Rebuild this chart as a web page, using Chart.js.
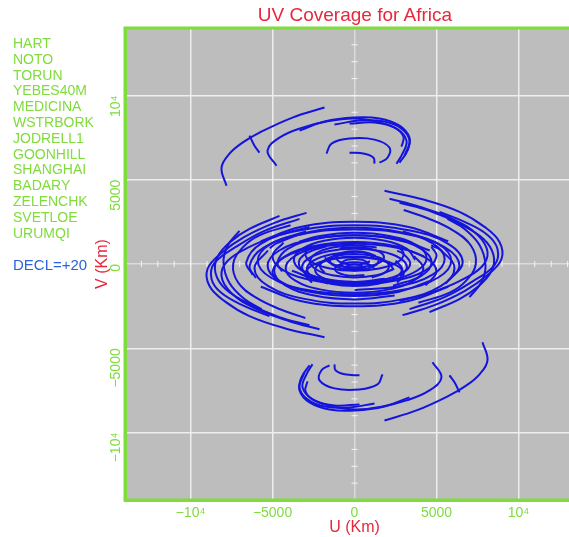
<!DOCTYPE html>
<html><head><meta charset="utf-8">
<script src="https://cdn.jsdelivr.net/npm/chart.js@4"></script>
<style>
html,body{margin:0;padding:0;background:#fff;overflow:hidden;width:569px;height:537px;}
#wrap{position:absolute;left:0;top:0;width:590px;height:537px;}
.t{position:absolute;font-family:"Liberation Sans",Arial,sans-serif;white-space:nowrap;}
#title{left:355px;top:4px;transform:translateX(-50%);font-size:19px;color:#e6283c;}
#stations{left:13px;top:36px;font-size:14px;line-height:15.8px;color:#7fdc3c;}
#decl{left:13px;top:256px;font-size:15px;color:#2a62e0;}
</style></head><body>
<div id="wrap"><canvas id="c" width="590" height="537"></canvas></div>
<div id="title" class="t"></div>
<div id="stations" class="t"></div>
<div id="decl" class="t"></div>
<script>
const chartTitle = 'UV Coverage for Africa';
const stations = ['HART','NOTO','TORUN','YEBES40M','MEDICINA','WSTRBORK','JODRELL1','GOONHILL','SHANGHAI','BADARY','ZELENCHK','SVETLOE','URUMQI'];
const declLabel = 'DECL=+20';
const xTickValues = [-10000,-5000,0,5000,10000];
const xTickLabels = ['\u221210\u2074','\u22125000','0','5000','10\u2074'];
const yTickValues = [-10000,-5000,0,5000,10000];
const yTickLabels = ['\u221210\u2074','\u22125000','0','5000','10\u2074'];
const axisMarks = [-13000,-12000,-11000,-10000,-9000,-8000,-7000,-6000,-5000,-4000,-3000,-2000,-1000,1000,2000,3000,4000,5000,6000,7000,8000,9000,10000,11000,12000,13000];

// UV tracks, flat [u1,v1,u2,v2,...] in km
const topArcs = [
 [-7808,4641,-8113,5712,-7625,6545,-6832,7200,-5795,7795,-3782,8687,-1830,9282],
 [-4758,5831,-5307,6724,-4575,7497,-3172,8092,-1708,8449,-122,8628,1342,8449,2562,8033,3172,7319,2928,6545,2562,5950],
 [-3355,7914,-1830,8449,0,8687,1525,8628,2745,8211,3355,7497,3233,6724,2745,6010],
 [-1220,8271,305,8509,1830,8449,2867,8033,3355,7319,3050,6426],
 [-305,8330,1220,8390,2440,8092,2989,7557,2867,6962],
 [-1708,6545,-1403,7140,-305,7438,1220,7378,2135,6902,2013,6307,1525,6010],
 [-305,6605,610,6545,1159,6307,1220,5950],
 [-6405,7616,-6100,7021,-5795,6605]
];
const bottomArcs = [
 [7808,-4641,8113,-5712,7625,-6545,6832,-7200,5795,-7795,3782,-8687,1830,-9282],
 [4758,-5831,5307,-6724,4575,-7497,3172,-8092,1708,-8449,122,-8628,-1342,-8449,-2562,-8033,-3172,-7319,-2928,-6545,-2562,-5950],
 [3355,-7914,1830,-8449,0,-8687,-1525,-8628,-2745,-8211,-3355,-7497,-3233,-6724,-2745,-6010],
 [1220,-8271,-305,-8509,-1830,-8449,-2867,-8033,-3355,-7319,-3050,-6426],
 [305,-8330,-1220,-8390,-2440,-8092,-2989,-7557,-2867,-6962],
 [1708,-6545,1403,-7140,305,-7438,-1220,-7378,-2135,-6902,-2013,-6307,-1525,-6010],
 [305,-6605,-610,-6545,-1159,-6307,-1220,-5950],
 [6405,-7616,6100,-7021,5795,-6605]
];
const leftArcs = [
 [-2928,3035,-4880,2440,-6710,1607,-8113,655,-8967,-298,-8845,-1309,-7930,-2202,-6405,-3094,-4270,-3808,-1830,-4344],
 [-2745,2202,-4575,1726,-6405,1012,-7747,179,-8113,-714,-7503,-1726,-6100,-2618,-3965,-3392,-2135,-3868],
 [-3355,2678,-5490,1964,-7137,1071,-8540,60,-8723,-893,-8113,-1726,-6710,-2499,-5185,-3094],
 [-4575,2856,-6405,2083,-7503,1369,-8357,417,-8479,-536,-7869,-1488,-6405,-2380,-4575,-3154,-2745,-3630],
 [-7015,1964,-7747,1071,-7991,60,-7625,-1131,-6710,-2083,-5673,-2678],
 [-3900,2300,-5800,1700,-6800,1000,-7400,0,-7100,-1100,-6000,-2000,-4500,-2700,-3000,-3200]
];
const rightArcs = [
 [2928,-3035,4880,-2440,6710,-1607,8113,-655,8967,298,8845,1309,7930,2202,6405,3094,4270,3808,1830,4344],
 [2745,-2202,4575,-1726,6405,-1012,7747,-179,8113,714,7503,1726,6100,2618,3965,3392,2135,3868],
 [3355,-2678,5490,-1964,7137,-1071,8540,-60,8723,893,8113,1726,6710,2499,5185,3094],
 [4575,-2856,6405,-2083,7503,-1369,8357,-417,8479,536,7869,1488,6405,2380,4575,3154,2745,3630],
 [7015,-1964,7747,-1071,7991,-60,7625,1131,6710,2083,5673,2678],
 [3900,-2300,5800,-1700,6800,-1000,7400,0,7100,1100,6000,2000,4500,2700,3000,3200]
];
const coreArcs = [
 [800,0,693,150,400,260,0,300,-400,260,-693,150,-800,0,-693,-150,-400,-260,0,-300,400,-260,693,-150],
 [1299,475,750,676,0,750,-750,676,-1299,475,-1500,200,-1299,-75,-750,-276,0,-350,750,-276,1299,-75,1500,200],
 [1050,-800,1819,-525,2100,-150,1819,225,1050,500,0,600,-1050,500,-1819,225,-2100,-150,-1819,-525],
 [1350,973,0,1100,-1350,973,-2338,625,-2700,150,-2338,-325,-1350,-673,0,-800,1350,-673,2338,-325],
 [2771,-750,3200,-200,2771,350,1600,753,0,900,-1600,753,-2771,350,-3200,-200,-2771,-750,-1600,-1153],
 [3700,250,3204,900,1850,1376,0,1550,-1850,1376,-3204,900,-3700,250,-3204,-400,-1850,-876,0,-1050,1850,-876],
 [0,1200,-2100,1006,-3637,475,-4200,-250,-3637,-975,-2100,-1506,0,-1700,2100,-1506,3637,-975,4200,-250,3637,475],
 [2350,-1286,4070,-700,4700,100,4070,900,2350,1486,0,1700,-2350,1486,-4070,900,-4700,100,-4418,-447],
 [4590,800,2650,1459,0,1700,-2650,1459,-4590,800,-5300,-100,-4590,-1000,-2650,-1659,0,-1900,2650,-1659,4590,-1000],
 [-2950,1932,-5109,1200,-5900,200,-5109,-800,-2950,-1532,0,-1800,2950,-1532,5109,-800,5900,200,5109,1200,2950,1932],
 [5542,-1175,6400,-100,5542,975,3200,1762,0,2050,-3200,1762,-5542,975,-6400,-100,-6014,-835],
 [-2598,1100,-3000,600,-2598,100,-1500,-266,0,-400,1500,-266,2598,100,3000,600,2598,1100],
 [2598,-1100,3000,-600,2598,-100,1500,266,0,400,-1500,266,-2598,-100,-3000,-600,-2598,-1100],
 [-4330,1275,-5000,450,-4330,-375,-2500,-979,0,-1200,2500,-979,4330,-375,5000,450,4698,1014],
 [4330,-1275,5000,-450,4330,375,2500,979,0,1200,-2500,979,-4330,375,-5000,-450,-4698,-1014],
 [1200,-300,1039,-100,600,46,0,100,-600,46,-1039,-100,-1200,-300,-1039,-500,-600,-646,0,-700,600,-646],
 [5716,1350,3300,2192,0,2500,-3300,2192,-5716,1350],
 [-5716,-1350,-3300,-2192,0,-2500,3300,-2192,5716,-1350],
 [-1800,400,-1559,100,-900,-120,0,-200,900,-120,1559,100,1800,400,1559,700,900,920,0,1000,-900,920],
 [2400,-350,2078,50,1200,343,0,450,-1200,343,-2078,50,-2400,-350,-2078,-750,-1200,-1043,0,-1150,1200,-1043],
 [-1700,1046,-2944,625,-3400,50,-2944,-525,-1700,-946,0,-1100,1700,-946,2944,-525,3400,50,2944,625,2604,789],
 [-3810,-400,-2200,-949,0,-1150,2200,-949,3810,-400,4400,350,3810,1100,2200,1649,0,1850,-2200,1649,-3370,1315],
 [4243,450,2450,1072,0,1300,-2450,1072,-4243,450,-4900,-400,-4243,-1250,-2450,-1872,0,-2100,2450,-1872],
 [0,-1550,2750,-1302,4763,-625,5500,300,4763,1225,2750,1902,0,2150,-2750,1902,-4763,1225,-5170,933],
 [-5283,800,-6100,-250,-5283,-1300,-3050,-2069,0,-2350,3050,-2069,5283,-1300,6100,-250,5283,800,4673,1100],
 [5716,-1000,6600,100,5716,1200,3300,2005,0,2300,-3300,2005,-5716,1200,-6600,100,-6204,-652],
 [0,700,-1450,566,-2511,200,-2900,-300,-2511,-800,-1450,-1166,0,-1300,1450,-1166,2511,-800,2900,-300,2511,200],
 [1100,350,953,540,550,679,0,730,-550,679,-953,540,-1100,350,-953,160,-550,21,0,-30,550,21,953,160],
 [500,-200,433,-110,250,-44,0,-20,-250,-44,-433,-110,-500,-200,-433,-290,-250,-356,0,-380,250,-356,433,-290,500,-200]
];

const GREEN = '#7fdc3c', RED = '#e6283c', BLUE = '#1414dc', FONT = '"Liberation Sans", Arial, sans-serif';

document.getElementById('title').textContent = chartTitle;
document.getElementById('stations').innerHTML = stations.map(s => '<div>' + s + '</div>').join('');
document.getElementById('decl').textContent = declLabel;

function toPts(flat){ const p=[]; for(let i=0;i<flat.length;i+=2) p.push({x:flat[i], y:flat[i+1]}); return p; }
const datasets = [];
[topArcs,bottomArcs,leftArcs,rightArcs,coreArcs].forEach(group => group.forEach(a => datasets.push({
  data: toPts(a), showLine:true, pointRadius:0, borderColor:BLUE, borderWidth:2, tension:0.4, fill:false
})));
datasets.push({data: axisMarks.map(v=>({x:v,y:0})), showLine:false, pointStyle:'line', rotation:90, pointRadius:3, borderColor:'#f4f4f4', borderWidth:1, order:10});
datasets.push({data: axisMarks.map(v=>({x:0,y:v})), showLine:false, pointStyle:'line', rotation:0, pointRadius:3, borderColor:'#f4f4f4', borderWidth:1, order:10});

const frame = {
  id:'frame',
  beforeDraw(chart){ const {ctx, chartArea:a} = chart; ctx.save(); ctx.fillStyle='#bdbdbd'; ctx.fillRect(a.left,a.top,a.right-a.left,a.bottom-a.top); ctx.restore(); },
  afterDraw(chart){ const {ctx, chartArea:a} = chart; ctx.save(); ctx.strokeStyle=GREEN; ctx.lineWidth=3; ctx.strokeRect(a.left,a.top,a.right-a.left,a.bottom-a.top); ctx.restore(); }
};

function gridColor(ctx){ return (ctx.tick && ctx.tick.value === 0) ? 'rgba(255,255,255,0.45)' : '#eeeeee'; }

new Chart(document.getElementById('c'), {
  type:'scatter',
  data:{datasets},
  plugins:[frame],
  options:{
    responsive:false, animation:false, devicePixelRatio:1,
    layout:{padding:{left:93, top:28, right:6, bottom:0}},
    plugins:{legend:{display:false}, tooltip:{enabled:false}, title:{display:false}},
    scales:{
      x:{type:'linear', min:-14000, max:14000,
        afterBuildTicks:s=>{ s.ticks = xTickValues.map(v=>({value:v})); },
        afterFit:s=>{ s.height = 37; },
        ticks:{color:GREEN, font:{size:14, family:FONT}, padding:5, maxRotation:0, minRotation:0,
          callback:(v)=>xTickLabels[xTickValues.indexOf(v)]},
        grid:{color:gridColor, lineWidth:1.5, drawTicks:false},
        border:{color:GREEN, width:3},
        title:{display:true, text:'U (Km)', color:RED, font:{size:16, family:FONT}, padding:0}
      },
      y:{type:'linear', min:-14000, max:14000,
        afterBuildTicks:s=>{ s.ticks = yTickValues.map(v=>({value:v})); },
        afterFit:s=>{ s.width = 32; },
        ticks:{color:GREEN, font:{size:14, family:FONT}, padding:9, maxRotation:90, minRotation:90,
          callback:(v)=>yTickLabels[yTickValues.indexOf(v)]},
        grid:{color:gridColor, lineWidth:1.5, drawTicks:false},
        border:{color:GREEN, width:3},
        title:{display:true, text:'V (Km)', color:RED, font:{size:16, family:FONT}, padding:0}
      }
    }
  }
});
</script>
</body></html>
